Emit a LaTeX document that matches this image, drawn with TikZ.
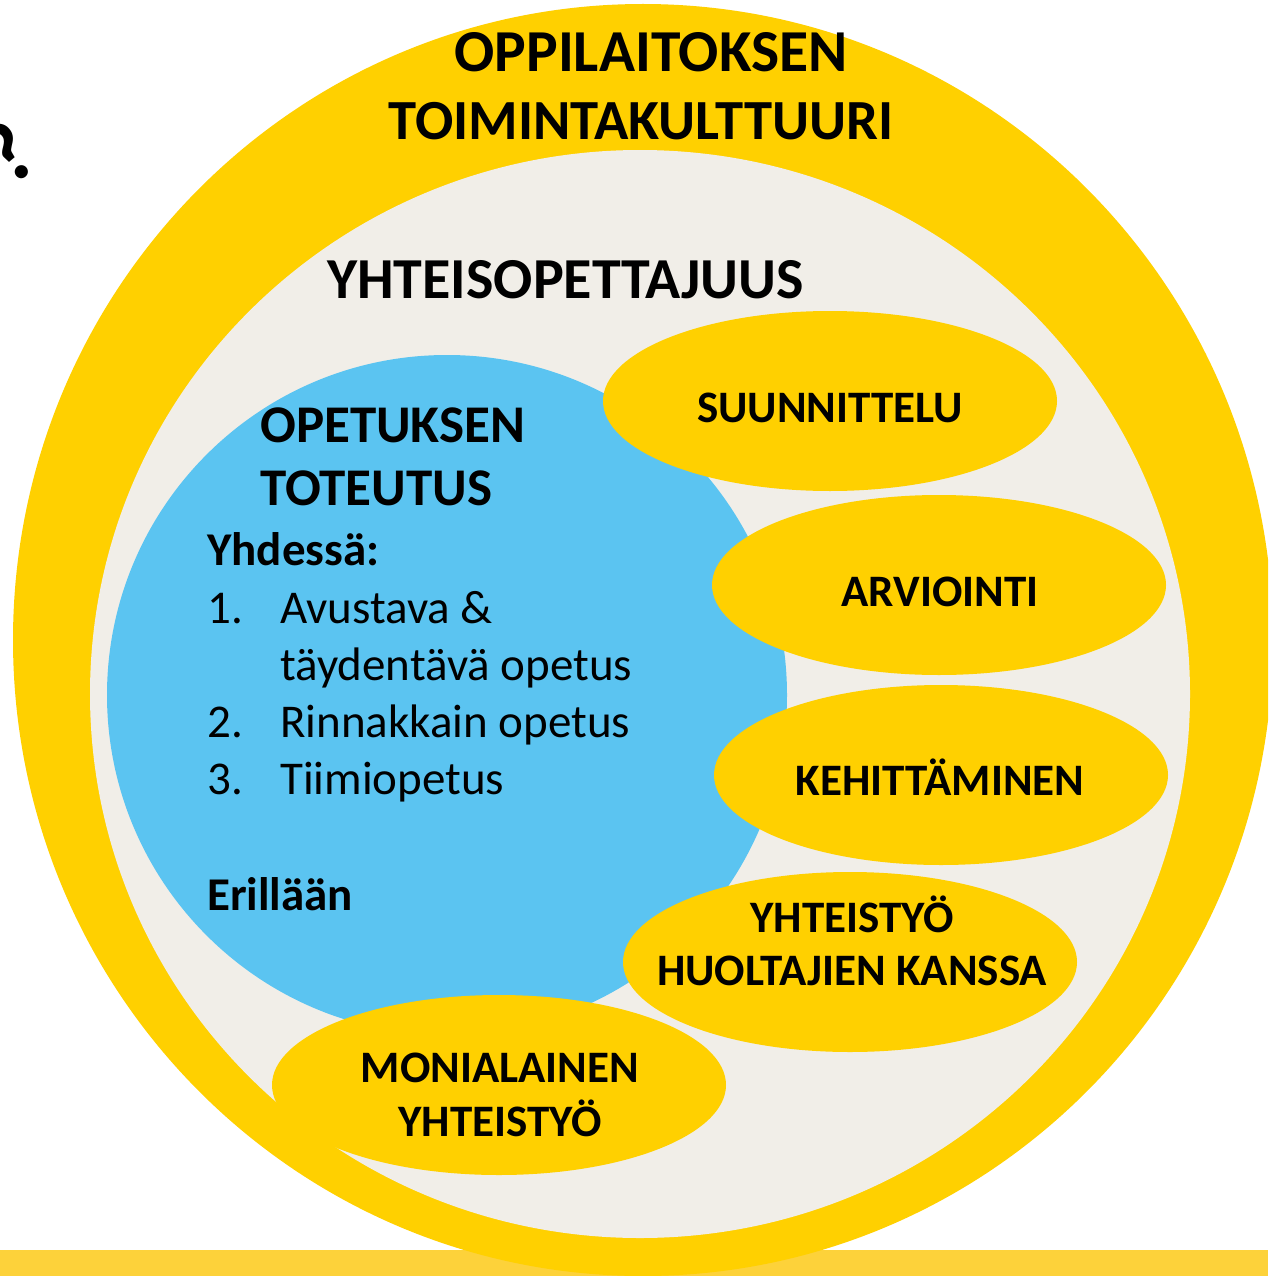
\documentclass[tikz,border=0pt]{standalone}
\usepackage{fontspec}
\setmainfont{Carlito}
\usetikzlibrary{shapes.geometric}
\definecolor{ringyellow}{HTML}{FFD000}
\definecolor{baryellow}{HTML}{FDD23A}
\definecolor{beige}{HTML}{F1EEE8}
\definecolor{skyblue}{HTML}{5BC4F1}
\begin{document}
\begin{tikzpicture}[x=1pt,y=-1pt,
  oval/.style={ellipse, fill=ringyellow, minimum width=454pt, minimum height=180pt, inner sep=0pt},
  ovallbl/.style={inner sep=0pt, anchor=base, font=\fontsize{45}{53}\selectfont\bfseries},
  bigtitle/.style={inner sep=0pt, anchor=base, font=\fontsize{58}{68}\selectfont\bfseries},
  midtitle/.style={inner sep=0pt, anchor=base west, font=\fontsize{53}{63}\selectfont\bfseries},
  bodytxt/.style={inner sep=0pt, anchor=base west, font=\fontsize{47}{57}\selectfont},
  bodybold/.style={inner sep=0pt, anchor=base west, font=\fontsize{47}{57}\selectfont\bfseries}]
\useasboundingbox (0,0) rectangle (1268,1276);
\clip (0,0) rectangle (1268,1276);
\fill[white] (0,0) rectangle (1268,1276);
\fill[baryellow] (0,1250) rectangle (1268,1276);
% rings
\node[ellipse, fill=ringyellow, minimum width=1260pt, minimum height=1272pt, inner sep=0pt] (outer) at (643,640) {};
\node[ellipse, fill=beige, minimum width=1100pt, minimum height=1088pt, inner sep=0pt] (inner) at (640,694) {};
\node[circle, fill=skyblue, minimum size=680pt, inner sep=0pt] (teach) at (447,695) {};
% ovals
\node[oval] (suun) at (830,401) {};
\node[oval] (arv) at (939,585) {};
\node[oval] (keh) at (941,775) {};
\node[oval] (huol) at (850,962) {};
\node[oval] (moni) at (499,1085) {};
% question mark fragment
\node[rotate=40, inner sep=0pt, font=\fontsize{88}{88}\selectfont\bfseries] (qm) at (8,152) {?};
% titles
\node[bigtitle, font=\fontsize{59.5}{68}\selectfont\bfseries] (t1) at (651,72) {OPPILAITOKSEN};
\node[bigtitle, font=\fontsize{56.7}{68}\selectfont\bfseries] (t2) at (641,140) {TOIMINTAKULTTUURI};
\node[bigtitle, anchor=base west] (t3) at (327,298) {YHTEISOPETTAJUUS};
\node[midtitle] (t4) at (260,442) {OPETUKSEN};
\node[midtitle] (t5) at (260,505) {TOTEUTUS};
% list
\node[bodybold] (yh) at (207,565) {Yhdessä:};
\node[bodytxt] (n1) at (207,623) {1.};
\node[bodytxt] (i1) at (280,623) {Avustava \&};
\node[bodytxt] (i1b) at (280,680) {täydentävä opetus};
\node[bodytxt] (n2) at (207,737) {2.};
\node[bodytxt] (i2) at (280,737) {Rinnakkain opetus};
\node[bodytxt] (n3) at (207,794) {3.};
\node[bodytxt] (i3) at (280,794) {Tiimiopetus};
\node[bodybold] (er) at (207,910) {Erillään};
% oval labels
\node[ovallbl] (l1) at (830,422) {SUUNNITTELU};
\node[ovallbl] (l2) at (940,606) {ARVIOINTI};
\node[ovallbl] (l3) at (940,795) {KEHITTÄMINEN};
\node[ovallbl] (l4a) at (852,932) {YHTEISTYÖ};
\node[ovallbl] (l4b) at (852,985) {HUOLTAJIEN KANSSA};
\node[ovallbl] (l5a) at (500,1082) {MONIALAINEN};
\node[ovallbl] (l5b) at (500,1136) {YHTEISTYÖ};
\end{tikzpicture}
\end{document}
